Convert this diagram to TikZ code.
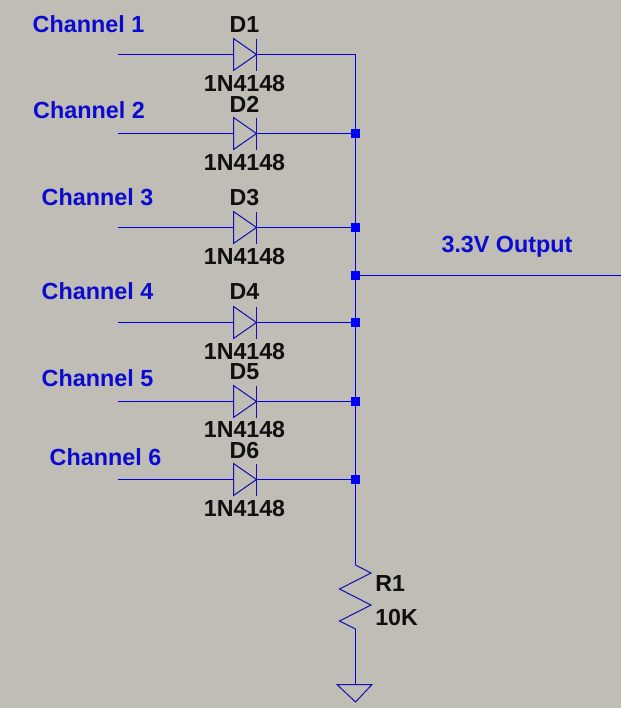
\documentclass[tikz,border=0pt]{standalone}
\usepackage{fontspec}
\setmainfont{Liberation Sans}
\definecolor{bgc}{HTML}{C0BCB6}
\definecolor{wirec}{HTML}{0000E0}
\definecolor{symc}{HTML}{1010B0}
\definecolor{labc}{HTML}{0A0AD0}
\definecolor{partc}{HTML}{101010}
\tikzset{
  wire/.style={draw=wirec,line width=0.9pt},
  sym/.style={draw=symc,line width=0.75pt,line join=miter},
  junction/.style={fill=blue,inner sep=0pt,minimum size=6.5pt,shape=rectangle,draw=none},
  chanlabel/.style={text=labc,font=\bfseries\fontsize{17.5}{20}\selectfont,anchor=center,inner sep=0pt},
  partlabel/.style={text=partc,font=\bfseries\fontsize{17.4}{20}\selectfont,anchor=center,inner sep=0pt},
  diodesym/.pic={
    \coordinate (-a) at (233,0);
    \coordinate (-k) at (256.5,0);
    \draw[sym] (233.5,-16) -- (233.5,16) -- (256.5,0) -- cycle;
    \draw[sym] (256.5,-16) -- (256.5,16);
  }
}
\begin{document}
\begin{tikzpicture}[x=0.75pt,y=-0.75pt]
\fill[bgc] (0,0) rectangle (621,708);
\useasboundingbox (0,0) rectangle (621,708);
% diodes
\pic (d1) at (0,54.5) {diodesym};
\pic (d2) at (0,133.5) {diodesym};
\pic (d3) at (0,227.5) {diodesym};
\pic (d4) at (0,322.5) {diodesym};
\pic (d5) at (0,401.5) {diodesym};
\pic (d6) at (0,479.5) {diodesym};
% wire ends
\coordinate (in1) at (118,54.5);
\coordinate (in2) at (118,133.5);
\coordinate (in3) at (118,227.5);
\coordinate (in4) at (118,322.5);
\coordinate (in5) at (118,401.5);
\coordinate (in6) at (118,479.5);
\coordinate (corner) at (355.5,54.5);
\coordinate (out) at (621,275.5);
\coordinate (rtop) at (355.5,565);
\coordinate (rbot) at (355.5,629);
\coordinate (gnd) at (355.5,684.5);
% junctions
\node[junction] (j2) at (355.5,133.5) {};
\node[junction] (j3) at (355.5,227.5) {};
\node[junction] (jo) at (355.5,275.5) {};
\node[junction] (j4) at (355.5,322.5) {};
\node[junction] (j5) at (355.5,401.5) {};
\node[junction] (j6) at (355.5,479.5) {};
% connectors
\draw[wire] (in1) -- (d1-a);
\draw[wire] (in2) -- (d2-a);
\draw[wire] (in3) -- (d3-a);
\draw[wire] (in4) -- (d4-a);
\draw[wire] (in5) -- (d5-a);
\draw[wire] (in6) -- (d6-a);
\draw[wire] (d1-k) -- (corner) -- (rtop);
\draw[wire] (d2-k) -- (j2.center);
\draw[wire] (d3-k) -- (j3.center);
\draw[wire] (d4-k) -- (j4.center);
\draw[wire] (d5-k) -- (j5.center);
\draw[wire] (d6-k) -- (j6.center);
\draw[wire] (jo.center) -- (out);
\draw[wire] (rbot) -- (gnd);
% resistor
\draw[sym] (rtop) -- (371,573) -- (339.5,589) -- (371,605) -- (339.5,621) -- (rbot);
% ground
\draw[sym] (337,684.5) -- (372,684.5) -- (355.5,702) -- cycle;
% labels
\node[chanlabel] (c1) at (88.5,24) {Channel 1};
\node[chanlabel] (c2) at (89,110) {Channel 2};
\node[chanlabel] (c3) at (97.5,197) {Channel 3};
\node[chanlabel] (c4) at (97.5,291) {Channel 4};
\node[chanlabel] (c5) at (97.5,378) {Channel 5};
\node[chanlabel] (c6) at (105.5,457) {Channel 6};
\node[chanlabel] (lo) at (507,247) {3.3V Output};
\node[partlabel] (n1) at (244.5,25) {D1};
\node[partlabel] (n2) at (244.5,104) {D2};
\node[partlabel] (n3) at (244.5,198) {D3};
\node[partlabel] (n4) at (244.5,292) {D4};
\node[partlabel] (n5) at (244.5,372) {D5};
\node[partlabel] (n6) at (244.5,451) {D6};
\node[partlabel] (v1) at (244.5,84) {1N4148};
\node[partlabel] (v2) at (244.5,163) {1N4148};
\node[partlabel] (v3) at (244.5,257) {1N4148};
\node[partlabel] (v4) at (244.5,352) {1N4148};
\node[partlabel] (v5) at (244.5,430) {1N4148};
\node[partlabel] (v6) at (244.5,509) {1N4148};
\node[partlabel,anchor=west] (r1) at (375,584) {R1};
\node[partlabel,anchor=west] (r2) at (375,618) {10K};
\end{tikzpicture}
\end{document}
